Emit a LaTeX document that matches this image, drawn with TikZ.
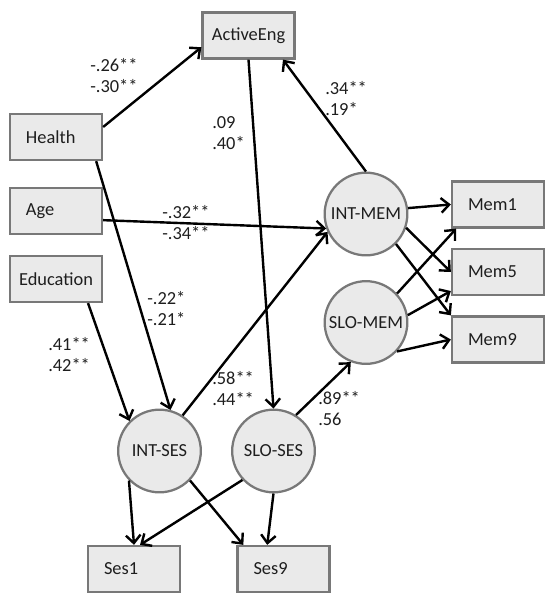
\documentclass[tikz,border=0pt]{standalone}
\usepackage{fontspec}
\setmainfont{Carlito}
\usetikzlibrary{arrows.meta}
\definecolor{boxfill}{RGB}{234,234,234}
\definecolor{boxline}{RGB}{120,120,120}
\definecolor{inktext}{RGB}{30,30,30}
\tikzstyle{obs_box}=[rectangle, draw=boxline, fill=boxfill, line width=1.7pt, text=inktext,
    minimum width=69pt, minimum height=34.5pt, text width=45pt, align=left]
\tikzstyle{obs_wide}=[obs_box, text width=56pt, align=center]
\tikzstyle{lat_circle}=[circle, draw=boxline, fill=boxfill, line width=1.7pt, text=inktext,
    minimum size=62pt, inner sep=0pt]
\tikzstyle{path_arrow}=[line width=1.8pt, -{Straight Barb[length=6pt,width=11pt]}]
\tikzstyle{coef}=[anchor=west, align=left, inner sep=0pt, text=inktext]

\begin{document}
\begin{tikzpicture}[x=0.75pt, y=-0.75pt, font=\fontsize{13.8}{15.75}\selectfont]
\useasboundingbox (0,0) rectangle (555,600);
% observed variables
\node[obs_box] (health) at (56,137){Health};
\node[obs_box] (age) at (56,211){Age};
\node[obs_wide] (edu) at (56,279){Education};
\node[obs_wide] (active) at (248.5,35.5){ActiveEng};
\node[obs_box] (mem1) at (498,204.5){Mem1};
\node[obs_box] (mem5) at (498,272){Mem5};
\node[obs_box] (mem9) at (498,339.5){Mem9};
\node[obs_box] (ses1) at (134,569){Ses1};
\node[obs_box] (ses9) at (283.5,569){Ses9};
% latent growth factors
\node[lat_circle] (intmem) at (366,214){INT-MEM};
\node[lat_circle] (slomem) at (366,322.5){SLO-MEM};
\node[lat_circle] (intses) at (159.5,451){INT-SES};
\node[lat_circle] (sloses) at (273.5,451){SLO-SES};
% paths
\draw[path_arrow](health.12) -- (active.194);
\draw[path_arrow](active.south) -- (sloses.north);
\draw[path_arrow](intmem.north) -- (active.-35);
\draw[path_arrow](age.-11) -- (intmem.200);
\draw[path_arrow](health.-31) -- (intses.75);
\draw[path_arrow](edu.-37) -- (intses.135);
\draw[path_arrow](intses.57) -- (intmem.205);
\draw[path_arrow](sloses.58) -- (slomem.249);
% loadings
\draw[path_arrow](intmem.8) -- (mem1.west);
\draw[path_arrow](intmem.-19) -- (mem5.west);
\draw[path_arrow](intmem.-45) -- (mem9.north west);
\draw[path_arrow](slomem.43) -- (mem1.210);
\draw[path_arrow](slomem.10) -- (mem5.202);
\draw[path_arrow](slomem.-43) -- (mem9.west);
\draw[path_arrow](intses.224) -- (ses1.north);
\draw[path_arrow](sloses.223) -- (ses1.76);
\draw[path_arrow](intses.-44) -- (ses9.149);
\draw[path_arrow](sloses.south) -- (ses9.124);
% coefficients
\node[coef] (c_health_active) at (90,75.5){-.26**\\-.30**};
\node[coef] (c_active_sloses) at (212,133){.09\\.40*};
\node[coef] (c_intmem_active) at (325,99){.34**\\.19*};
\node[coef] (c_age_intmem) at (162,222.5){-.32**\\-.34**};
\node[coef] (c_health_intses) at (147,308.5){-.22*\\-.21*};
\node[coef] (c_edu_intses) at (48,354.5){.41**\\.42**};
\node[coef] (c_intses_intmem) at (212,389){.58**\\.44**};
\node[coef] (c_sloses_slomem) at (318,409){.89**\\.56};
\end{tikzpicture}
\end{document}
